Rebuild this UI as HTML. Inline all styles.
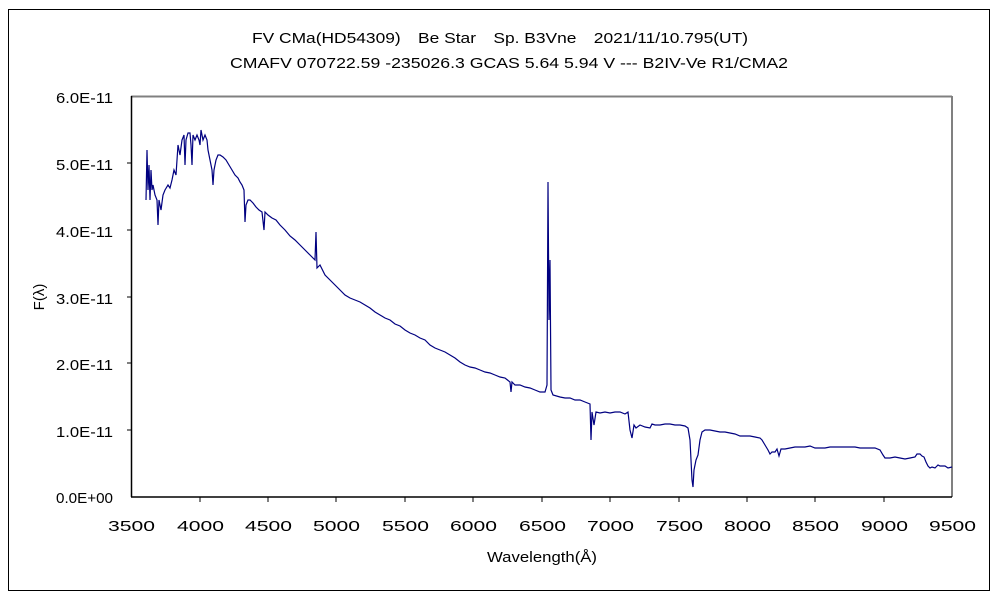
<!DOCTYPE html>
<html><head><meta charset="utf-8"><style>
body{margin:0;background:#fff;}
svg text{font-family:"Liberation Sans","Noto Sans CJK JP",sans-serif;font-size:15px;fill:#000;}
</style></head><body>
<svg width="1000" height="600" xmlns="http://www.w3.org/2000/svg">
<rect x="8.5" y="9.5" width="981" height="581" fill="#fff" stroke="#000" stroke-width="1"/>
<text x="252" y="43" textLength="496" lengthAdjust="spacingAndGlyphs">FV CMa(HD54309)　Be Star　Sp. B3Vne　2021/11/10.795(UT)</text>
<text x="230" y="68" textLength="558" lengthAdjust="spacingAndGlyphs">CMAFV 070722.59 -235026.3 GCAS 5.64 5.94 V --- B2IV-Ve R1/CMA2</text>
<line x1="131" y1="96.5" x2="952" y2="96.5" stroke="#808080" stroke-width="2"/>
<line x1="952" y1="96" x2="952" y2="497" stroke="#808080" stroke-width="2"/>
<line x1="131.5" y1="96" x2="131.5" y2="497" stroke="#000" stroke-width="1.5"/>
<line x1="131" y1="497" x2="952" y2="497" stroke="#000" stroke-width="1.5"/>
<g stroke="#000" stroke-width="1">
<line x1="127" y1="163" x2="131" y2="163"/><line x1="127" y1="230" x2="131" y2="230"/><line x1="127" y1="297" x2="131" y2="297"/><line x1="127" y1="363" x2="131" y2="363"/><line x1="127" y1="430" x2="131" y2="430"/>
<line x1="200" y1="497" x2="200" y2="502"/><line x1="268" y1="497" x2="268" y2="502"/><line x1="336" y1="497" x2="336" y2="502"/><line x1="405" y1="497" x2="405" y2="502"/><line x1="473" y1="497" x2="473" y2="502"/><line x1="542" y1="497" x2="542" y2="502"/><line x1="610" y1="497" x2="610" y2="502"/><line x1="679" y1="497" x2="679" y2="502"/><line x1="747" y1="497" x2="747" y2="502"/><line x1="815" y1="497" x2="815" y2="502"/><line x1="884" y1="497" x2="884" y2="502"/>
</g>
<g lengthAdjust="spacingAndGlyphs">
<text x="56" y="103" textLength="57" lengthAdjust="spacingAndGlyphs">6.0E-11</text><text x="56" y="170" textLength="57" lengthAdjust="spacingAndGlyphs">5.0E-11</text><text x="56" y="237" textLength="57" lengthAdjust="spacingAndGlyphs">4.0E-11</text><text x="56" y="304" textLength="57" lengthAdjust="spacingAndGlyphs">3.0E-11</text><text x="56" y="370" textLength="57" lengthAdjust="spacingAndGlyphs">2.0E-11</text><text x="56" y="437" textLength="57" lengthAdjust="spacingAndGlyphs">1.0E-11</text><text x="56" y="503" textLength="57" lengthAdjust="spacingAndGlyphs">0.0E+00</text>
</g>
<g>
<text x="108" y="531" textLength="47" lengthAdjust="spacingAndGlyphs">3500</text><text x="177" y="531" textLength="47" lengthAdjust="spacingAndGlyphs">4000</text><text x="245" y="531" textLength="47" lengthAdjust="spacingAndGlyphs">4500</text><text x="313" y="531" textLength="47" lengthAdjust="spacingAndGlyphs">5000</text><text x="382" y="531" textLength="47" lengthAdjust="spacingAndGlyphs">5500</text><text x="450" y="531" textLength="47" lengthAdjust="spacingAndGlyphs">6000</text><text x="519" y="531" textLength="47" lengthAdjust="spacingAndGlyphs">6500</text><text x="587" y="531" textLength="47" lengthAdjust="spacingAndGlyphs">7000</text><text x="656" y="531" textLength="47" lengthAdjust="spacingAndGlyphs">7500</text><text x="724" y="531" textLength="47" lengthAdjust="spacingAndGlyphs">8000</text><text x="792" y="531" textLength="47" lengthAdjust="spacingAndGlyphs">8500</text><text x="861" y="531" textLength="47" lengthAdjust="spacingAndGlyphs">9000</text><text x="929" y="531" textLength="47" lengthAdjust="spacingAndGlyphs">9500</text>
<text x="487" y="562" textLength="110" lengthAdjust="spacingAndGlyphs">Wavelength(Å)</text>
<text transform="translate(44,297) rotate(-90)" text-anchor="middle">F(λ)</text>
</g>
<polyline fill="none" stroke="#000080" stroke-width="1.2" points="146,200 147,150 148,190 149,165 150,200 151,170 152,190 153,185 155,195 157,200 158,225 159,200 161,210 163,195 165,190 168,185 170,188 172,180 174,170 176,175 177,160 178,145 180,155 182,140 184,135 185,165 186,140 188,133 190,133 191,145 192,165 193,135 195,140 197,135 199,140 200,145 201,130 203,140 205,135 207,140 208,150 210,160 212,170 213,185 214,170 216,160 218,155 220,155 223,157 226,160 229,165 232,170 235,175 238,178 240,182 242,185 244,190 245,222 246,205 248,200 250,200 253,203 256,207 259,210 262,212 264,230 265,212 268,215 272,218 276,220 280,225 285,230 290,236 295,240 300,245 305,250 310,255 315,260 316,232 317,268 320,265 325,275 330,280 335,285 340,290 345,295 350,298 355,300 360,302 365,305 370,308 375,312 380,315 385,318 390,320 395,324 400,326 405,330 410,333 415,335 420,338 425,340 430,345 435,348 440,350 445,352 450,355 455,358 460,362 465,365 470,367 475,368 480,370 485,372 490,373 495,375 500,377 505,378 510,382 511,392 512,382 515,385 520,385 525,387 530,388 535,390 540,392 545,392 547,385 548,182 549,320 550,260 551,390 553,395 560,397 565,398 570,398 575,400 580,400 585,402 590,404 591,440 592,412 594,425 596,412 600,413 605,412 610,413 615,412 620,412 625,414 628,412 630,430 632,438 634,425 636,428 640,425 645,427 650,428 652,424 655,425 660,425 665,424 670,424 675,425 680,425 685,426 688,428 690,440 692,480 693,487 694,470 696,460 698,455 700,440 702,432 705,430 710,430 715,431 720,432 725,432 730,433 735,434 740,436 745,436 750,436 755,437 760,438 762,440 765,445 768,450 770,454 772,452 775,452 777,449 779,456 781,449 785,449 790,448 795,447 800,447 805,447 810,446 815,448 820,448 825,448 830,447 835,447 840,447 845,447 850,447 855,447 860,448 865,448 870,448 875,448 880,450 883,455 885,458 890,458 895,457 900,458 905,459 910,458 915,457 917,454 920,454 922,456 924,457 926,462 928,466 930,468 932,467 935,468 938,465 940,466 945,466 948,468 952,467"/>
</svg>
</body></html>
